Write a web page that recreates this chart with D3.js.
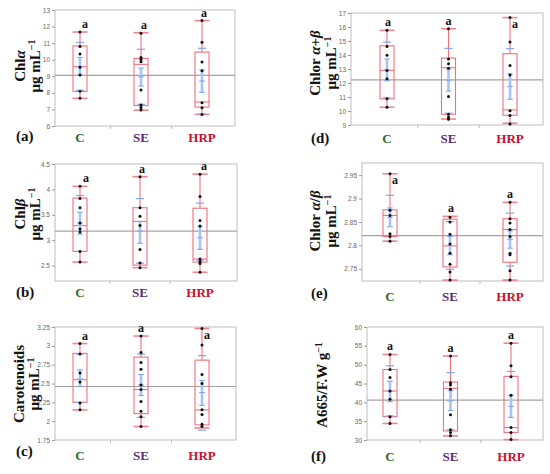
<!DOCTYPE html>
<html><head><meta charset="utf-8">
<script src="https://cdn.jsdelivr.net/npm/d3@7"></script>
<style>
html,body{margin:0;padding:0;background:#fff;}
svg{display:block;}
</style></head>
<body>
<svg id="chart" width="550" height="474"></svg>
<script>
// ---------------- DATA ----------------
const groups = ["C", "SE", "HRP"];
const groupColors = ["#2f6a22", "#5b2c6f", "#c8102e"];
const sigLetters = ["a", "a", "a"];

// (a) Chl a
const chlaPoints = [[11.67,10.79,10.34,9.55,9.08,8.10,7.67],[11.59,10.14,10.02,9.88,8.17,7.27,7.12,6.96],[12.36,11.05,9.86,9.34,7.41,7.10,6.70]];
const chlaBox = [[7.67,8.09,9.58,10.83,11.67],[6.96,7.23,9.72,10.08,11.63],[6.70,7.14,7.45,10.46,12.36]]; // min,q1,median,q3,max
const chlaMeans = [[8.15,9.08,9.60,10.14,11.05],[7.31,8.41,8.97,9.50,10.63],[6.72,8.03,8.71,9.38,10.69]]; // sdLo,seLo,mean,seHi,sdHi
const chlaGrand = 9.06;
const chlaTicks = [6,7,8,9,10,11,12,13];

// (b) Chl b
const chlbPoints = [[4.06,3.82,3.64,3.34,3.22,3.16,2.78,2.57],[4.25,3.64,3.47,3.29,2.82,2.55,2.46],[4.30,3.86,3.39,3.28,2.63,2.58,2.54,2.37]];
const chlbBox = [[2.57,2.78,3.29,3.83,4.06],[2.46,2.51,3.37,3.64,4.25],[2.37,2.57,2.63,3.63,4.30]];
const chlbMeans = [[2.78,3.12,3.34,3.55,3.88],[2.55,2.94,3.18,3.37,3.82],[2.61,2.82,3.05,3.27,3.73]];
const chlbGrand = 3.18;
const chlbTicks = [2.5,3,3.5,4,4.5];

// (c) Carotenoids
const carPoints = [[3.03,2.89,2.64,2.52,2.24,2.15],[3.13,2.91,2.78,2.69,2.48,2.42,2.26,2.13,2.06,1.93],[3.23,3.01,2.62,2.50,2.15,2.09,1.96,1.93]];
const carBox = [[2.15,2.25,2.55,2.90,3.03],[1.93,2.10,2.42,2.85,3.13],[1.91,1.95,2.15,2.81,3.23]];
const carMeans = [[2.25,2.46,2.56,2.68,2.89],[2.05,2.34,2.48,2.62,2.89],[1.88,2.21,2.38,2.54,2.87]];
const carGrand = 2.46;
const carTicks = [1.75,2,2.25,2.5,2.75,3,3.25];

// (d) Chlor a+b
const chlabPoints = [[15.76,14.61,13.99,12.90,12.30,10.87,10.27],[15.88,13.71,13.37,13.06,11.03,9.77,9.55,9.41],[16.67,14.92,13.25,12.58,10.01,9.67,9.08]];
const chlabBox = [[10.27,10.87,12.90,14.66,15.76],[9.43,9.77,13.09,13.78,15.88],[9.12,9.70,10.08,14.09,16.67]];
const chlabMeans = [[10.94,12.16,12.94,13.71,14.92],[9.84,11.42,12.20,12.99,14.47],[9.12,10.84,11.75,12.66,14.45]];
const chlabGrand = 12.23;
const chlabTicks = [9,10,11,12,13,14,15,16,17];

// (e) Chlor a/b
const ratioPoints = [[2.953,2.875,2.864,2.825,2.819,2.809],[2.860,2.850,2.824,2.803,2.783,2.760,2.743,2.726],[2.892,2.857,2.848,2.834,2.819,2.783,2.780,2.746,2.726]];
const ratioBox = [[2.809,2.819,2.864,2.876,2.953],[2.726,2.754,2.799,2.856,2.862],[2.726,2.764,2.834,2.857,2.892]];
const ratioMeans = [[2.809,2.840,2.860,2.880,2.907],[2.749,2.780,2.800,2.819,2.851],[2.756,2.794,2.813,2.831,2.869]];
const ratioGrand = 2.821;
const ratioTicks = [2.75,2.8,2.85,2.9,2.95];

// (f) A665/F.W
const a665Points = [[52.7,48.7,46.6,43.0,40.8,36.2,34.4],[52.3,45.2,44.6,43.5,36.7,32.7,32.0,31.1],[55.7,49.7,46.8,41.9,33.3,32.0,30.1]];
const a665Box = [[34.4,36.2,43.0,48.7,52.7],[31.1,32.4,43.7,45.4,52.3],[30.1,32.0,33.3,46.9,55.7]];
const a665Means = [[36.4,40.2,43.0,45.6,49.7],[32.7,37.8,40.4,43.1,47.9],[30.1,36.0,38.9,41.9,48.2]];
const a665Grand = 40.6;
const a665Ticks = [30,35,40,45,50,55,60];

// ---------------- LAYOUT ----------------
const panels = [
  {id:"(a)", pts:chlaPoints, box:chlaBox, means:chlaMeans, grand:chlaGrand, ticks:chlaTicks,
   L:55,R:235,T:10,B:126, dom:[6,13], cx:[80,202], catY:142, letX:16, letY:141,
   lab:[{x:25, parts:[["Chl",""],["α","i"]]},{x:40, parts:[["μg mL",""],["−1","s"]]}], labY:66,
   sig:[["up",5],["up",3],["up",2]]},
  {id:"(b)", pts:chlbPoints, box:chlbBox, means:chlbMeans, grand:chlbGrand, ticks:chlbTicks,
   L:55,R:237,T:164,B:281, dom:[2.198,4.5], cx:[80,200], catY:297, letX:16, letY:297,
   lab:[{x:25, parts:[["Chl",""],["β","i"]]},{x:40, parts:[["μg mL",""],["−1","s"]]}], labY:214,
   sig:[["up",6],["up",2],["up",4]]},
  {id:"(c)", pts:carPoints, box:carBox, means:carMeans, grand:carGrand, ticks:carTicks,
   L:55,R:236,T:327,B:440, dom:[1.75,3.25], cx:[80,202], catY:460, letX:16, letY:456,
   lab:[{x:24, parts:[["Carotenoids",""]]},{x:39, parts:[["μg mL",""],["−1","s"]]}], labY:384,
   sig:[["up",5],["up",0],["right",0]]},
  {id:"(d)", pts:chlabPoints, box:chlabBox, means:chlabMeans, grand:chlabGrand, ticks:chlabTicks,
   L:351,R:543,T:13,B:125, dom:[9,17], cx:[387,510], catY:143, letX:311, letY:143,
   lab:[{x:320, parts:[["Chlor ",""],["α","i"],["+",""],["β","i"]]},{x:336, parts:[["μg mL",""],["−1","s"]]}], labY:63,
   sig:[["up",1],["up",0],["right",0]]},
  {id:"(e)", pts:ratioPoints, box:ratioBox, means:ratioMeans, grand:ratioGrand, ticks:ratioTicks,
   L:362,R:543,T:163,B:281, dom:[2.724,2.976], cx:[390,510], catY:301, letX:311, letY:298,
   lab:[{x:320, parts:[["Chlor ",""],["α","i"],["/",""],["β","i"]]},{x:336, parts:[["μg mL",""],["−1","s"]]}], labY:221,
   sig:[["right",0],["up",1],["up",0]]},
  {id:"(f)", pts:a665Points, box:a665Box, means:a665Means, grand:a665Grand, ticks:a665Ticks,
   L:367,R:543,T:327,B:440, dom:[30,60], cx:[390,511], catY:461, letX:311, letY:461,
   lab:[{x:327, parts:[["A665/F.W g",""],["−1","s"]]}], labY:385,
   sig:[["up",0],["up",0],["up",0]]}
];

const RED = "#f0707c", BLUE = "#7ea6ee", BLUE_L = "#a9c3f3";
const serif = "'Liberation Serif','DejaVu Serif',serif";
const sans = "'Liberation Sans',Arial,sans-serif";

const svg = d3.select("#chart");

panels.forEach(p => {
  const g = svg.append("g");
  const y = d3.scaleLinear().domain(p.dom).range([p.B, p.T]);
  const x = d3.scalePoint().domain(groups).range(p.cx);
  const step = x.step();

  // frame
  g.append("rect").attr("x", p.L).attr("y", p.T).attr("width", p.R - p.L).attr("height", p.B - p.T)
    .attr("fill", "#fff").attr("stroke", "#c9c9c9").attr("stroke-width", 1.2);

  // y axis
  const ax = d3.axisLeft(y).tickValues(p.ticks).tickSize(3).tickPadding(2)
    .tickFormat(d => String(+d.toFixed(2)));
  const axg = g.append("g").attr("transform", `translate(${p.L},0)`).call(ax);
  axg.select(".domain").remove();
  axg.selectAll(".tick line").attr("stroke", "#9a9a9a");
  axg.selectAll(".tick text").attr("font-size", 6.5).attr("font-family", sans).attr("fill", "#666");

  // bottom small division ticks
  const divs = [x(groups[0]) + step / 2, x(groups[1]) + step / 2];
  g.selectAll(".div").data(divs).join("line")
    .attr("x1", d => d).attr("x2", d => d).attr("y1", p.B).attr("y2", p.B + 3)
    .attr("stroke", "#bbb").attr("stroke-width", 1);

  // grand mean
  g.append("line").attr("x1", p.L).attr("x2", p.R).attr("y1", y(p.grand)).attr("y2", y(p.grand))
    .attr("stroke", "#a3a3a3").attr("stroke-width", 1.2);

  groups.forEach((grp, i) => {
    const cx = x(grp);
    const [mn, q1, md, q3, mx] = p.box[i];
    const [sdL, seL, mean, seH, sdH] = p.means[i];
    const bw = 14, cw = 15;
    // whiskers
    g.append("line").attr("x1", cx).attr("x2", cx).attr("y1", y(mx)).attr("y2", y(q3)).attr("stroke", RED).attr("stroke-width", 1.1);
    g.append("line").attr("x1", cx).attr("x2", cx).attr("y1", y(q1)).attr("y2", y(mn)).attr("stroke", RED).attr("stroke-width", 1.1);
    [mn, mx].forEach(v => g.append("line").attr("x1", cx - cw / 2).attr("x2", cx + cw / 2)
      .attr("y1", y(v)).attr("y2", y(v)).attr("stroke", RED).attr("stroke-width", 1.6).attr("opacity", 0.85));
    // box
    g.append("rect").attr("x", cx - bw / 2).attr("width", bw).attr("y", y(q3)).attr("height", y(q1) - y(q3))
      .attr("fill", "none").attr("stroke", RED).attr("stroke-width", 1.1);
    g.append("line").attr("x1", cx - bw / 2).attr("x2", cx + bw / 2).attr("y1", y(md)).attr("y2", y(md))
      .attr("stroke", RED).attr("stroke-width", 1.1);
    // blue: sd ticks
    [sdL, sdH].forEach(v => g.append("line").attr("x1", cx - 4).attr("x2", cx + 4)
      .attr("y1", y(v)).attr("y2", y(v)).attr("stroke", BLUE).attr("stroke-width", 1.2));
    // se bar
    g.append("line").attr("x1", cx).attr("x2", cx).attr("y1", y(seH)).attr("y2", y(seL))
      .attr("stroke", BLUE_L).attr("stroke-width", 2.6);
    [seL, seH, mean].forEach(v => g.append("line").attr("x1", cx - 2.8).attr("x2", cx + 2.8)
      .attr("y1", y(v)).attr("y2", y(v)).attr("stroke", BLUE).attr("stroke-width", 1.1));
    // points
    g.selectAll(null).data(p.pts[i]).join("circle")
      .attr("cx", cx).attr("cy", d => y(d)).attr("r", 1.5).attr("fill", "#111");
    // significance letter
    const [mode, dx] = p.sig[i];
    const t = g.append("text").text(sigLetters[i]).attr("font-family", serif).attr("font-weight", "bold")
      .attr("font-size", 12).attr("fill", "#111");
    if (mode === "up") t.attr("x", cx + dx).attr("y", y(mx) - 4).attr("text-anchor", "middle");
    else t.attr("x", cx + 2).attr("y", y(mx) + 10).attr("text-anchor", "start");
    // category label
    g.append("text").text(grp).attr("x", cx).attr("y", p.catY).attr("text-anchor", "middle")
      .attr("font-family", serif).attr("font-weight", "bold").attr("font-size", 13).attr("fill", groupColors[i]);
  });

  // panel letter
  g.append("text").text(p.id).attr("x", p.letX).attr("y", p.letY)
    .attr("font-family", serif).attr("font-weight", "bold").attr("font-size", 15).attr("fill", "#111");

  // y label
  p.lab.forEach(line => {
    const t = g.append("text").attr("transform", `translate(${line.x},${p.labY}) rotate(-90)`)
      .attr("text-anchor", "middle").attr("font-family", serif).attr("font-weight", "bold")
      .attr("font-size", 15).attr("fill", "#111");
    line.parts.forEach(([s, st]) => {
      const ts = t.append("tspan").text(s);
      if (st === "i") ts.attr("font-style", "italic");
      if (st === "s") ts.attr("font-size", 10).attr("dy", -5);
    });
  });
});
</script>
</body></html>
